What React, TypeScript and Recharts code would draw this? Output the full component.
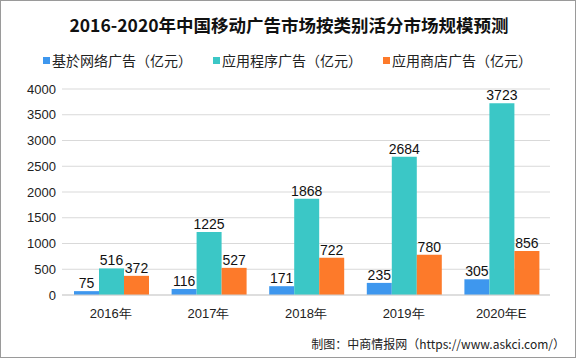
import { BarChart, Bar, XAxis, YAxis, CartesianGrid, LabelList } from 'recharts'

const years = ['2016年', '2017年', '2018年', '2019年', '2020年E']
const networkAds = [75, 116, 171, 235, 305]
const appAds = [516, 1225, 1868, 2684, 3723]
const storeAds = [372, 527, 722, 780, 856]
const yTicks = [0, 500, 1000, 1500, 2000, 2500, 3000, 3500, 4000]

const seriesInfo = [
  { key: 'network', name: '基於网络广告（亿元）', color: '#3E97EE' },
  { key: 'app', name: '应用程序广告（亿元）', color: '#3BC7C6' },
  { key: 'store', name: '应用商店广告（亿元）', color: '#FD7A2A' },
]

const data = years.map((year, i) => ({
  year,
  network: networkAds[i],
  app: appAds[i],
  store: storeAds[i],
}))

const cjk = '"Noto Sans CJK SC", "Liberation Sans", sans-serif'
const num = '"Liberation Sans", Arial, sans-serif'

export default function App() {
  return (
    <div
      style={{
        position: 'absolute',
        left: 0,
        top: 0,
        width: 576,
        height: 358,
        boxSizing: 'border-box',
        border: '1px solid #9a9a9a',
        background: '#fff',
        overflow: 'hidden',
      }}
    >
      <style>{'body{margin:0}'}</style>
      <div
        style={{
          position: 'absolute',
          top: 13,
          left: 0,
          width: 576,
          textAlign: 'center',
          fontFamily: cjk,
          fontWeight: 700,
          fontSize: 17.5,
          lineHeight: '22px',
          color: '#111',
        }}
      >
        2016-2020年中国移动广告市场按类别活分市场规模预测
      </div>
      <div
        style={{
          position: 'absolute',
          top: 49,
          left: 42,
          display: 'flex',
          fontFamily: cjk,
          fontSize: 14,
          lineHeight: '20px',
          color: '#222',
        }}
      >
        {seriesInfo.map((s, i) => (
          <div key={s.key} style={{ display: 'flex', alignItems: 'center', marginRight: i < 2 ? 21 : 0 }}>
            <span style={{ width: 7, height: 7, background: s.color, marginRight: 2, display: 'inline-block' }} />
            <span>{s.name}</span>
          </div>
        ))}
      </div>
      <div style={{ position: 'absolute', top: 0, left: 0 }}>
        <BarChart
          width={576}
          height={358}
          data={data}
          margin={{ top: 88, right: 27, bottom: 34, left: 0 }}
          barCategoryGap={12}
          barGap={0}
        >
          <CartesianGrid vertical={false} stroke="#d9d9d9" />
          <XAxis
            dataKey="year"
            stroke="#d0d0d0"
            tickLine={false}
            tick={{ fill: '#222', fontSize: 13, fontFamily: num }}
            tickMargin={8}
            height={30}
          />
          <YAxis
            domain={[0, 4000]}
            ticks={yTicks}
            axisLine={false}
            tickLine={false}
            tickMargin={0}
            width={61}
            tick={{ fill: '#222', fontSize: 13, fontFamily: num }}
          />
          {seriesInfo.map((s) => (
            <Bar key={s.key} dataKey={s.key} name={s.name} fill={s.color} isAnimationActive={false}>
              <LabelList
                dataKey={s.key}
                position="top"
                offset={3}
                fill="#111"
                fontSize={14}
                fontFamily={num}
              />
            </Bar>
          ))}
        </BarChart>
      </div>
      <div
        style={{
          position: 'absolute',
          top: 334,
          right: 10,
          fontFamily: cjk,
          fontSize: 12,
          lineHeight: '18px',
          color: '#222',
        }}
      >
        制图：中商情报网（https://www.askci.com/）
      </div>
    </div>
  )
}
